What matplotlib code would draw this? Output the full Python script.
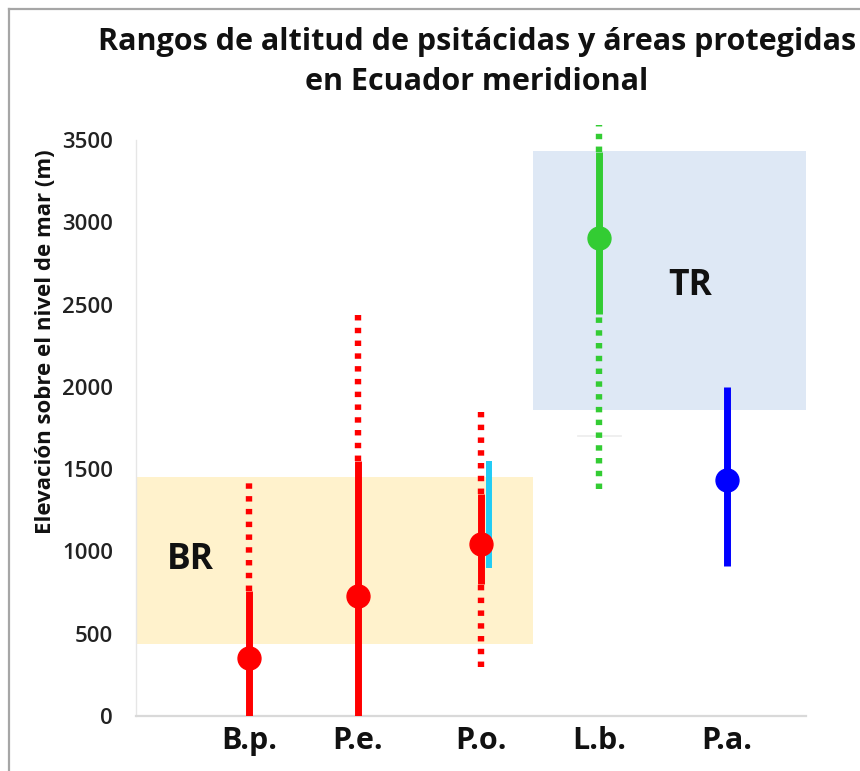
import matplotlib
matplotlib.use("Agg")
import matplotlib.pyplot as plt
from matplotlib.lines import Line2D
from matplotlib.patches import Rectangle

plt.rcParams['font.family'] = ['Open Sans', 'DejaVu Sans']

# ---- data ----
species = ["B.p.", "P.e.", "P.o.", "L.b.", "P.a."]
x_vals = [1.0, 1.91, 2.94, 3.93, 5.0]
colors = ["#ff0000", "#ff0000", "#ff0000", "#33cc33", "#0000ff"]
solid_lo = [0, 0, 800, 2440, 910]
solid_hi = [760, 1550, 1350, 3430, 2000]
dot_lo = [None, None, 300, 1380, None]
dot_hi = [1450, 2470, 1850, 3590, None]
dot_lo_top = [None, None, 800, 2440, None]   # lower dotted segment top
dot_hi_bot = [760, 1550, 1350, 3430, None]   # upper dotted segment bottom
centers = [355, 730, 1045, 2905, 1435]
# extra range for P.o. (cyan)
po_extra_lo, po_extra_hi = 900, 1550
# faint leftover mark near L.b.
lb_faint_y = 1700
# protected areas
br_range = (435, 1455)
tr_range = (1860, 3435)
yticks = [0, 500, 1000, 1500, 2000, 2500, 3000, 3500]

W, H = 860, 771
fig = plt.figure(figsize=(W / 100, H / 100), dpi=100)
L, R, B, T = 136, 806, 716, 140
ax = fig.add_axes([L / W, 1 - B / H, (R - L) / W, (B - T) / H])

PX = 119.5  # pixels per x unit
xmin = 1.0 - (249 - L) / PX
xmax = 5.0 + (R - 727) / PX
ax.set_xlim(xmin, xmax)
ax.set_ylim(0, 3500)

# protected area boxes
x_box_split = xmin + (533 - L) / PX
ax.add_patch(Rectangle((xmin, br_range[0]), x_box_split - xmin,
                       br_range[1] - br_range[0], facecolor="#fff2cc", edgecolor="none", zorder=0))
ax.add_patch(Rectangle((x_box_split, tr_range[0]), xmax - x_box_split,
                       tr_range[1] - tr_range[0], facecolor="#dee8f5", edgecolor="none", zorder=0))
ax.text(xmin + (190 - L) / PX, 945, "BR", fontsize=25.5, fontweight="bold",
        ha="center", va="center", color="#111111")
ax.text(xmin + (690 - L) / PX, 2615, "TR", fontsize=25.5, fontweight="bold",
        ha="center", va="center", color="#111111")

ax.plot([x_vals[3] - 0.18, x_vals[3] + 0.18], [lb_faint_y, lb_faint_y], color="#ececec",
        lw=1.2, zorder=1)

dots = (0.85, 1.15)
for i in range(len(species)):
    x = x_vals[i]
    c = colors[i]
    ax.plot([x, x], [solid_lo[i], solid_hi[i]], color=c, lw=5, solid_capstyle="butt", zorder=3)
    if dot_hi[i] is not None:
        ax.plot([x, x], [dot_hi_bot[i], dot_hi[i]], color=c, lw=4.6, linestyle=(0, dots),
                dash_capstyle="butt", zorder=3, clip_on=False)
    if dot_lo[i] is not None:
        ax.plot([x, x], [dot_lo[i], dot_lo_top[i]], color=c, lw=4.6, linestyle=(0, dots),
                dash_capstyle="butt", zorder=3)
    ax.plot([x], [centers[i]], marker="o", ms=16.5, color=c, mec=c, zorder=5)

# cyan extra range for P.o.
ax.plot([x_vals[2] + 0.065] * 2, [po_extra_lo, po_extra_hi], color="#22ccf5", lw=4.3,
        solid_capstyle="butt", zorder=2)

ax.set_yticks(yticks)
ax.set_yticklabels([str(v) for v in yticks], fontsize=16, fontweight="semibold", color="#222222")
ax.set_xticks(x_vals)
ax.set_xticklabels(species, fontsize=22, fontweight="bold", color="#111111")
ax.tick_params(axis="both", length=0)
ax.tick_params(axis="y", pad=16.5)
ax.tick_params(axis="x", pad=7)

for s in ["top", "right"]:
    ax.spines[s].set_visible(False)
ax.spines["left"].set_color("#e6e6e6")
ax.spines["left"].set_linewidth(1.0)
ax.spines["bottom"].set_color("#d9d9d9")
ax.spines["bottom"].set_linewidth(1.6)

ax.set_ylabel("Elevación sobre el nivel de mar (m)", fontsize=16, fontweight="bold",
              color="#111111")
ax.yaxis.set_label_coords((56 - L) / (R - L), (B - 342) / (B - T))

fig.text(477 / W, 1 - 62 / H, "Rangos de altitud de psitácidas y áreas protegidas\nen Ecuador meridional",
         ha="center", va="center", fontsize=22, fontweight="bold", color="#111111", linespacing=1.4)

# outer frame (left and top visible)
fig.add_artist(Line2D([9 / W, 9 / W], [0, 1 - 9 / H], transform=fig.transFigure, color="#a6a6a6", lw=1.6))
fig.add_artist(Line2D([9 / W, 1], [1 - 9 / H, 1 - 9 / H], transform=fig.transFigure, color="#a6a6a6", lw=1.6))

fig.savefig("out.png", dpi=100)
